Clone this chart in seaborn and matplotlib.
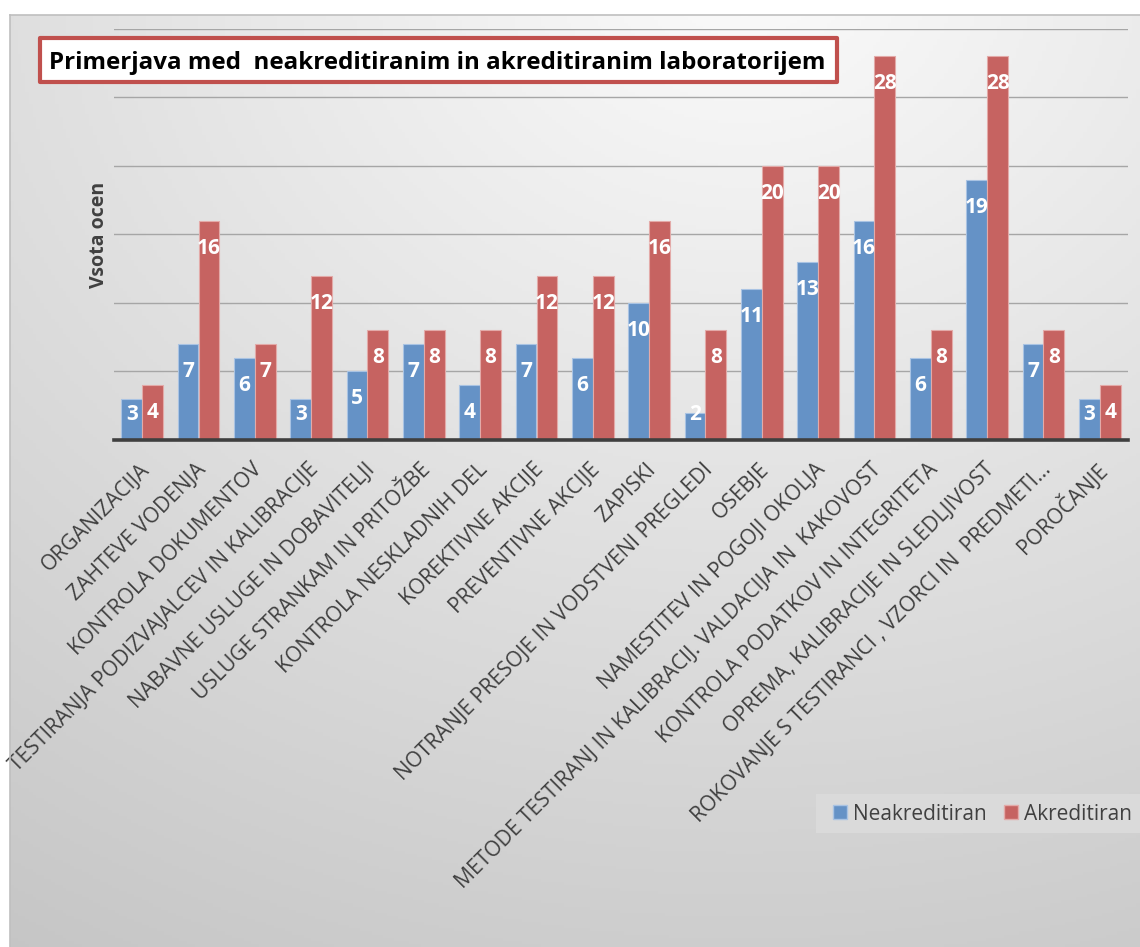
import numpy as np
import pandas as pd
import matplotlib
matplotlib.use("Agg")
import matplotlib.pyplot as plt
import seaborn as sns
from matplotlib.patches import Rectangle, Patch
from matplotlib.lines import Line2D
from matplotlib.transforms import ScaledTranslation

categories = [
    "ORGANIZACIJA",
    "ZAHTEVE VODENJA",
    "KONTROLA DOKUMENTOV",
    "TESTIRANJA PODIZVAJALCEV IN KALIBRACIJE",
    "NABAVNE USLUGE IN DOBAVITELJI",
    "USLUGE STRANKAM IN PRITOŽBE",
    "KONTROLA NESKLADNIH DEL",
    "KOREKTIVNE AKCIJE",
    "PREVENTIVNE AKCIJE",
    "ZAPISKI",
    "NOTRANJE PRESOJE IN VODSTVENI PREGLEDI",
    "OSEBJE",
    "NAMESTITEV IN POGOJI OKOLJA",
    "METODE TESTIRANJ IN KALIBRACIJ. VALDACIJA IN  KAKOVOST",
    "KONTROLA PODATKOV IN INTEGRITETA",
    "OPREMA, KALIBRACIJE IN SLEDLJIVOST",
    "ROKOVANJE S TESTIRANCI , VZORCI IN  PREDMETI...",
    "POROČANJE",
]
neakreditiran = [3, 7, 6, 3, 5, 7, 4, 7, 6, 10, 2, 11, 13, 16, 6, 19, 7, 3]
akreditiran = [4, 16, 7, 12, 8, 8, 8, 12, 12, 16, 8, 20, 20, 28, 8, 28, 8, 4]
series_names = ["Neakreditiran", "Akreditiran"]
title_text = "Primerjava med  neakreditiranim in akreditiranim laboratorijem"
y_label = "Vsota ocen"

df = pd.DataFrame({
    "kategorija": categories * 2,
    "vrednost": neakreditiran + akreditiran,
    "serija": [series_names[0]] * len(categories) + [series_names[1]] * len(categories),
})

W, H = 1140, 947
fig = plt.figure(figsize=(W / 100, H / 100), dpi=100)
fig.patch.set_facecolor("white")

def fx(px):
    return px / W

def fy(py):
    return 1 - py / H

# gradient background of the chart area
bg = fig.add_axes([fx(10), 0, 1 - fx(10), fy(15)], zorder=-10)
xx, yy = np.meshgrid(np.linspace(0, 1, 300), np.linspace(0, 1, 300))
d = np.sqrt((xx - 0.65) ** 2 + (yy - 1.05) ** 2)
L = np.clip(0.985 - 0.17 * d, 0, 1)
bg.imshow(np.dstack([L, L, L]), extent=[0, 1, 0, 1], origin="lower", aspect="auto")
bg.set_axis_off()
fig.add_artist(Line2D([fx(10), 1], [fy(15), fy(15)], transform=fig.transFigure,
                      color="#BFBFBF", lw=1.2))
fig.add_artist(Line2D([fx(10), fx(10)], [0, fy(15)], transform=fig.transFigure,
                      color="#BFBFBF", lw=1.2))

ax = fig.add_axes([fx(114), fy(440), fx(1128 - 114), (440 - 29) / H])
ax.set_facecolor("none")

blue = "#6592C6"
red = "#C66361"
sns.barplot(data=df, x="kategorija", y="vrednost", hue="serija",
            palette=[blue, red], width=0.74, gap=0.0, ax=ax,
            edgecolor="none", linewidth=0, legend=False, saturation=1)
edge_cols = ["#A9C3E3", "#E3AAA8"]
for cont, ec in zip(ax.containers, edge_cols):
    for b in cont:
        b.set_edgecolor(ec)
        b.set_linewidth(0.8)

ax.set_xlim(-0.5, len(categories) - 0.5)
ax.set_ylim(0, 30)
ax.set_yticks(np.arange(0, 31, 5))
ax.set_yticklabels([])
ax.tick_params(axis="y", length=0)
ax.grid(axis="y", color="#A6A6A6", lw=1.0)
ax.set_axisbelow(True)
for s in ["top", "right", "left"]:
    ax.spines[s].set_visible(False)
ax.spines["bottom"].set_color("#3F3F3F")
ax.spines["bottom"].set_linewidth(2.6)
ax.spines["bottom"].set_zorder(5)

ax.set_xlabel("")
ax.set_ylabel(y_label, fontsize=14, fontweight="bold", color="#404040",
              family="Open Sans", labelpad=0)

ax.tick_params(axis="x", length=0, pad=19)
ax.set_xticks(range(len(categories)))
ax.set_xticklabels(categories, rotation=45, ha="right", va="center",
                   rotation_mode="anchor", fontsize=15.2, color="#404040",
                   family="Open Sans")
off = ScaledTranslation(4 / 100, 0, fig.dpi_scale_trans)
for lab in ax.get_xticklabels():
    lab.set_transform(lab.get_transform() + off)

# value labels
for cont in ax.containers:
    for b in cont:
        v = b.get_height()
        xc = b.get_x() + b.get_width() / 2
        ax.text(xc, max(v - 2.0, 1.85), f"{int(round(v))}", ha="center", va="center",
                color="white", fontsize=15, fontweight="bold", family="Open Sans",
                zorder=6)

# title box
fig.add_artist(Rectangle((fx(40), fy(82)), fx(837 - 40), 44 / H,
                         transform=fig.transFigure, facecolor="white",
                         edgecolor="#C0504D", lw=3, joinstyle="round"))
fig.text(fx(49), fy(69), title_text, fontsize=17.4, fontweight="bold",
         family="Open Sans", color="black", ha="left", va="baseline")

# legend box + legend
fig.add_artist(Rectangle((fx(816), fy(833)), 1 - fx(816), 39 / H,
                         transform=fig.transFigure, facecolor="#DCDCDC",
                         edgecolor="none", alpha=0.85))
handles = [Patch(facecolor=blue, edgecolor=edge_cols[0]),
           Patch(facecolor=red, edgecolor=edge_cols[1])]
leg = fig.legend(handles, series_names, loc="center left",
                 bbox_to_anchor=(fx(833), fy(814)), ncol=2, frameon=False,
                 handlelength=0.67, handleheight=0.67,
                 handletextpad=0.3, columnspacing=0.8, borderpad=0,
                 borderaxespad=0,
                 prop={"family": "Open Sans", "size": 15})
for t in leg.get_texts():
    t.set_color("#404040")

fig.savefig("out.png", dpi=100)
